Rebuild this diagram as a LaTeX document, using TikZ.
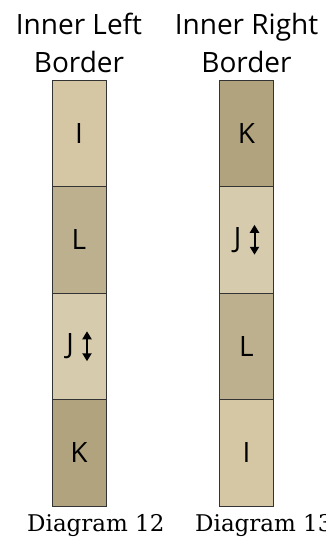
\documentclass[tikz,border=0pt]{standalone}
\usepackage{fontspec}
\usetikzlibrary{positioning,calc,arrows.meta}
\newfontfamily\hdfont{Open Sans}
\newfontfamily\capfont{DejaVu Serif}
\definecolor{tanI}{HTML}{D5C7A4}
\definecolor{tanJ}{HTML}{D6CBAD}
\definecolor{tanL}{HTML}{BDB08F}
\definecolor{tanK}{HTML}{B2A37F}
\tikzset{x=1pt,y=-1pt,
hd/.style={font=\hdfont\fontsize{28}{38}\selectfont,align=center,inner sep=0pt,anchor=north},
cell/.style={rectangle,draw=black!80,line width=0.8pt,minimum width=54pt,minimum height=106.5pt,inner sep=0pt,font=\hdfont\fontsize{28}{30}\selectfont},
diag/.style={font=\capfont\fontsize{23}{26}\selectfont,inner sep=0pt,anchor=base west},
updown/.style={{Triangle[width=9pt,length=8pt]}-{Triangle[width=9pt,length=8pt]},line width=2pt,shorten >=0pt,shorten <=0pt},
}
\begin{document}
\begin{tikzpicture}
\useasboundingbox (0,0) rectangle (325,538);
\node[hd] (hl) at (79,13) {Inner Left\\Border};
\node[hd] (hr) at (246.5,13) {Inner Right\\Border};

\node[cell,fill=tanI] (lI) at (79,133.25) {I};
\node[cell,fill=tanL] (lL) at (79,239.75) {L};
\node[cell,fill=tanJ] (lJ) at (79,346.25) {};
\node[cell,fill=tanK] (lK) at (79,452.75) {K};

\node[cell,fill=tanK] (rK) at (246.5,133.25) {K};
\node[cell,fill=tanJ] (rJ) at (246.5,239.75) {};
\node[cell,fill=tanL] (rL) at (246.5,346.25) {L};
\node[cell,fill=tanI] (rI) at (246.5,452.75) {I};

% J with its up-down arrow
\node[font=\hdfont\fontsize{28}{30}\selectfont,inner sep=0pt] (lJt) at ($(lJ.center)+(-9,0)$) {J};
\node[font=\hdfont\fontsize{28}{30}\selectfont,inner sep=0pt] (rJt) at ($(rJ.center)+(-9,0)$) {J};
\coordinate (lJa) at ($(lJt.center)+(17,-15)$);
\coordinate (lJb) at ($(lJt.center)+(17,15)$);
\coordinate (rJa) at ($(rJt.center)+(17,-15)$);
\coordinate (rJb) at ($(rJt.center)+(17,15)$);
\path
(lJa) edge[updown] (lJb)
(rJa) edge[updown] (rJb)
;

\node[diag] (dl) at (27,531) {Diagram 12};
\node[diag] (dr) at (195,531) {Diagram 13};
\end{tikzpicture}
\end{document}
